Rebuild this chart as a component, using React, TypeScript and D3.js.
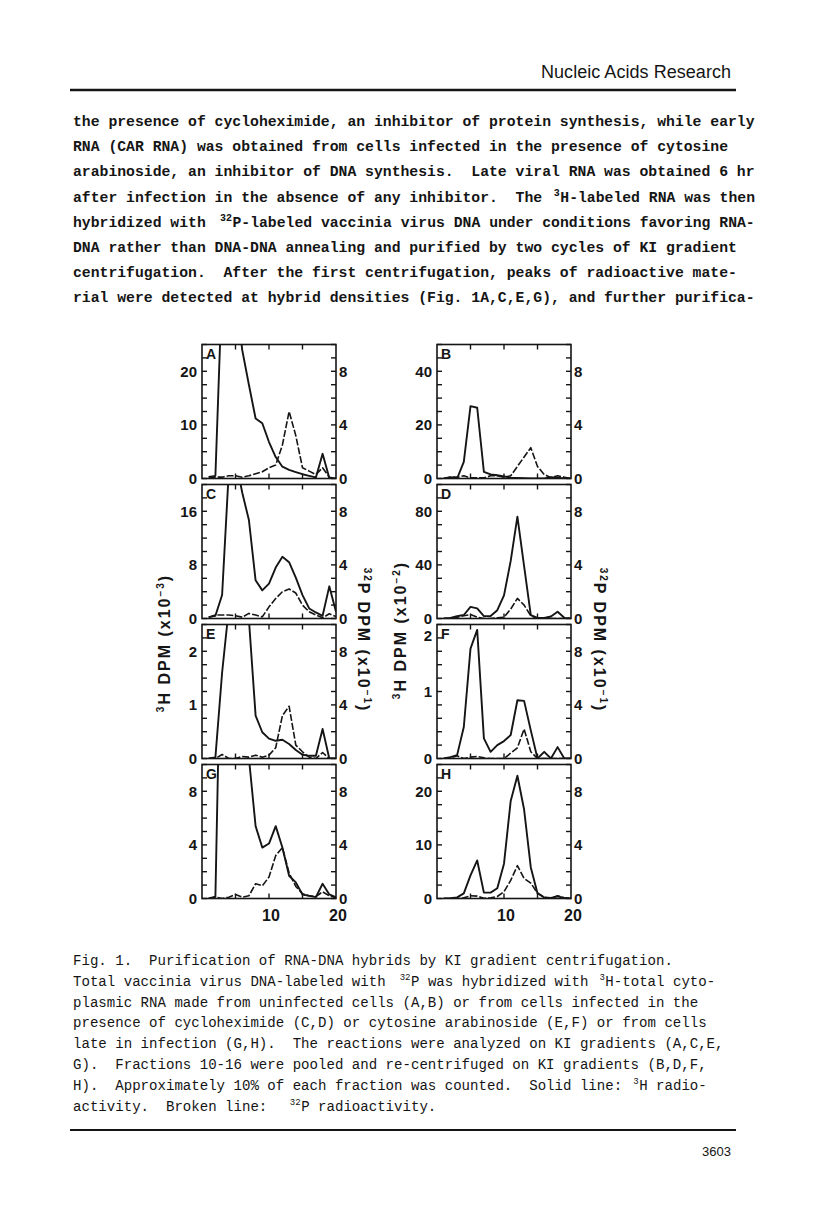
import * as React from "react";
import * as d3 from "d3";

// gradient fractions (x axis)
const fractions = [1, 2, 3, 4, 5, 6, 7, 8, 9, 10, 11, 12, 13, 14, 15, 16, 17, 18, 19, 20];

// solid = 3H (left axis), broken = 32P (right axis, x10^-1)
const solidA = [0.3, 0.5, 36, 45, 35, 24, 17.5, 11.2, 10.3, 6.8, 4.0, 2.2, 1.6, 1.2, 0.8, 0.5, 0.2, 4.6, 0.1, 0];
const brokenA = [0.1, 0.1, 0.1, 0.2, 0.2, 0.1, 0.2, 0.35, 0.5, 0.8, 1.0, 2.5, 5.0, 3.2, 0.8, 0.55, 0.3, 0.8, 0.1, 0];
const solidB = [0, 0.5, 0, 6.2, 27, 26.4, 2.5, 1.5, 1.2, 0.8, 0.3, 0.2, 0.1, 0, 0, 0, 0.5, 0.3, 0, 0];
const brokenB = [0, 0.1, 0.1, 0.2, 0.05, 0.05, 0.05, 0.2, 0.2, 0.1, 0.2, 0.9, 1.6, 2.3, 0.9, 0.3, 0.05, 0.2, 0.1, 0];
const solidC = [0.2, 0.4, 3.5, 22, 24, 18.8, 14.7, 5.7, 4.2, 5.2, 7.6, 9.2, 8.4, 6.1, 3.5, 1.5, 0.9, 0.4, 4.8, 1.0];
const brokenC = [0.1, 0.26, 0.26, 0.26, 0.2, 0.1, 0.38, 0.26, 0.12, 0.87, 1.5, 2.0, 2.2, 1.9, 1.0, 0.5, 0.26, 0.05, 0.35, 0.15];
const solidD = [0, 0.4, 1.8, 2.6, 8.7, 7.5, 1.8, 1.8, 6.2, 17.3, 43, 76, 39, 2.6, 0.4, 0.4, 1.5, 5.0, 0.5, 0];
const brokenD = [0, 0, 0.1, 0.2, 0.3, 0.1, 0, 0, 0.05, 0.1, 0.7, 1.5, 1.0, 0.2, 0, 0, 0, 0, 0, 0];
const solidE = [0, 0.02, 1.6, 2.8, 4, 4, 2.6, 0.8, 0.49, 0.37, 0.33, 0.35, 0.27, 0.16, 0.07, 0.05, 0.05, 0.55, 0, 0];
const brokenE = [0, 0, 0.3, 0, 0, 0.15, 0.1, 0.25, 0.1, 0.25, 0.8, 3.2, 3.9, 1.0, 0.5, 0.1, 0, 0.45, 0, 0];
const solidF = [0, 0.02, 0.05, 0.47, 1.64, 1.92, 0.3, 0.1, 0.2, 0.26, 0.35, 0.87, 0.86, 0.42, 0, 0.1, 0, 0.17, 0, 0];
const brokenF = [0, 0.05, 0.2, 0, 0.1, 0.15, 0.05, 0, 0, 0, 0.4, 0.8, 2.2, 0.5, 0, 0, 0, 0, 0, 0];
const solidG = [0, 0.13, 25, 30, 25, 20, 10.5, 5.4, 3.8, 4.1, 5.4, 3.8, 1.7, 1.2, 0.3, 0.2, 0.1, 1.1, 0.3, 0.1];
const brokenG = [0, 0.1, 0, 0.1, 0.3, 0.1, 0.2, 1.1, 0.95, 1.6, 3.2, 3.8, 1.9, 0.9, 0.35, 0.2, 0.15, 0.5, 0.2, 0.05];
const solidH = [0, 0.05, 0.2, 0.95, 4.3, 7.1, 1.1, 1.1, 1.9, 6.5, 18.2, 22.9, 16.6, 5.8, 1.0, 0.2, 0.1, 0.4, 0.1, 0];
const brokenH = [0, 0, 0, 0.05, 0.2, 0.18, 0.02, 0.05, 0.15, 0.5, 1.35, 2.45, 1.5, 1.15, 0.4, 0.1, 0.02, 0.2, 0.05, 0];

const panelLetters = ["A", "B", "C", "D", "E", "F", "G", "H"];
const solids = [solidA, solidB, solidC, solidD, solidE, solidF, solidG, solidH];
const brokens = [brokenA, brokenB, brokenC, brokenD, brokenE, brokenF, brokenG, brokenH];
const leftMax = [25, 50, 20, 100, 2.5, 2, 10, 25];
const leftStep = [2.5, 5, 2, 10, 0.25, 0.2, 1, 2.5];
const leftLabels = [[0, 10, 20], [0, 20, 40], [0, 8, 16], [0, 40, 80], [0, 1, 2], [0, 1, 2], [0, 4, 8], [0, 10, 20]];
const rightMax = 10;
const rightLabels = [0, 4, 8];
const topTicks = [5, 10, 15];
const xLabels = [10, 20];

// page text
const bodyLines = [
  "the presence of cycloheximide, an inhibitor of protein synthesis, while early",
  "RNA (CAR RNA) was obtained from cells infected in the presence of cytosine",
  "arabinoside, an inhibitor of DNA synthesis.  Late viral RNA was obtained 6 hr",
  "after infection in the absence of any inhibitor.  The {3}H-labeled RNA was then",
  "hybridized with {32}P-labeled vaccinia virus DNA under conditions favoring RNA-",
  "DNA rather than DNA-DNA annealing and purified by two cycles of KI gradient",
  "centrifugation.  After the first centrifugation, peaks of radioactive mate-",
  "rial were detected at hybrid densities (Fig. 1A,C,E,G), and further purifica-",
];
const captionLines = [
  "Fig. 1.  Purification of RNA-DNA hybrids by KI gradient centrifugation.",
  "Total vaccinia virus DNA-labeled with {32}P was hybridized with {3}H-total cyto-",
  "plasmic RNA made from uninfected cells (A,B) or from cells infected in the",
  "presence of cycloheximide (C,D) or cytosine arabinoside (E,F) or from cells",
  "late in infection (G,H).  The reactions were analyzed on KI gradients (A,C,E,",
  "G).  Fractions 10-16 were pooled and re-centrifuged on KI gradients (B,D,F,",
  "H).  Approximately 10% of each fraction was counted.  Solid line: {3}H radio-",
  "activity.  Broken line:  {32}P radioactivity.",
];

const INK = "#151515";
const SANS = "'Liberation Sans', Arial, sans-serif";
const MONO = "'Liberation Mono', 'Courier New', monospace";

const COL_X = [202, 437];
const PANEL_W = 134;
const PANEL_H = 134;
const ROW_BOTTOM = 478.5;
const ROW_STEP = 140;

// typewriter line, fixed pitch; superscripts keep their cells, pushed right against the next letter
function MonoLine({ text, x0, y, pitch, weight, supSize }) {
  const parts = text.split(/\{([^}]*)\}/);
  let col = 0;
  const spans = [];
  parts.forEach((p, i) => {
    if (!p) return;
    const sup = i % 2 === 1;
    const xs = sup
      ? x0 + (col + p.length) * pitch - p.length * supSize * 0.6 - 0.5
      : x0 + col * pitch;
    spans.push(
      <tspan key={i} x={xs} y={sup ? y - 6 : y} fontSize={sup ? supSize : pitch / 0.6}>
        {p}
      </tspan>
    );
    col += p.length;
  });
  return (
    <text fontFamily={MONO} fontWeight={weight} fill={INK} style={{ whiteSpace: "pre" }}>
      {spans}
    </text>
  );
}

function Panel({ i }) {
  const col = i % 2;
  const row = Math.floor(i / 2);
  const left = COL_X[col];
  const right = left + PANEL_W;
  const bottom = ROW_BOTTOM + row * ROW_STEP;
  const top = bottom - PANEL_H;

  const x = d3.scaleLinear().domain([0, 20]).range([left, right]);
  const yL = d3.scaleLinear().domain([0, leftMax[i]]).range([bottom, top]);
  const yR = d3.scaleLinear().domain([0, rightMax]).range([bottom, top]);

  const solidLine = d3.line().x((d) => x(d[0])).y((d) => yL(d[1]));
  const brokenLine = d3.line().x((d) => x(d[0])).y((d) => yR(d[1]));
  const sPts = fractions.map((f, k) => [f, solids[i][k]]);
  const bPts = fractions.map((f, k) => [f, brokens[i][k]]);

  const lTicks = d3.range(0, leftMax[i] + 1e-6, leftStep[i]);
  const rTicks = d3.range(0, rightMax + 1e-6, 1);
  const tk = 5;
  // keep a label that sits on the top edge clear of the "0" of the panel above
  const labelY = (yy) => Math.max(yy, top + 11);

  return (
    <g>
      <defs>
        <clipPath id={`clip${i}`}>
          <rect x={left} y={top} width={PANEL_W} height={PANEL_H} />
        </clipPath>
      </defs>
      <g clipPath={`url(#clip${i})`} fill="none" stroke={INK} strokeLinejoin="round">
        <path d={brokenLine(bPts)} strokeWidth={1.6} strokeDasharray="7,2" />
        <path d={solidLine(sPts)} strokeWidth={1.9} />
      </g>
      <rect x={left} y={top} width={PANEL_W} height={PANEL_H} fill="none" stroke={INK} strokeWidth={1.6} />
      {lTicks.map((t, k) => (
        <line key={"l" + k} x1={left} x2={left + tk} y1={yL(t)} y2={yL(t)} stroke={INK} strokeWidth={1.4} />
      ))}
      {rTicks.map((t, k) => (
        <line key={"r" + k} x1={right - tk} x2={right} y1={yR(t)} y2={yR(t)} stroke={INK} strokeWidth={1.4} />
      ))}
      {topTicks.map((t) => (
        <g key={"t" + t}>
          <line x1={x(t)} x2={x(t)} y1={top} y2={top + tk} stroke={INK} strokeWidth={1.4} />
          <line x1={x(t)} x2={x(t)} y1={bottom} y2={bottom - tk} stroke={INK} strokeWidth={1.4} />
        </g>
      ))}
      <g fontFamily={SANS} fontWeight="bold" fontSize={15} fill={INK}>
        {leftLabels[i].map((t) => (
          <text key={"ll" + t} x={left - 5} y={labelY(yL(t))} dy="0.36em" textAnchor="end">
            {t}
          </text>
        ))}
        {rightLabels.map((t) => (
          <text key={"rl" + t} x={right + 3} y={yR(t)} dy="0.36em" textAnchor="start">
            {t}
          </text>
        ))}
        {row === 3 &&
          xLabels.map((t) => (
            <text key={"xl" + t} x={x(t) + 2} y={bottom + 22} textAnchor="middle" fontSize={16}>
              {t}
            </text>
          ))}
        <text x={left + 4} y={top + 14} fontSize={14}>
          {panelLetters[i]}
        </text>
      </g>
    </g>
  );
}

function AxisTitle({ x, y, rot, pre, main, exp }) {
  return (
    <text
      transform={`translate(${x},${y}) rotate(${rot})`}
      textAnchor="middle"
      fontFamily={SANS}
      fontWeight="bold"
      fontSize={16}
      letterSpacing={2}
      fill={INK}
    >
      <tspan fontSize={10} dy={-6}>{pre}</tspan>
      <tspan dy={6}>{main}</tspan>
      <tspan fontSize={10} dy={-6}>{exp}</tspan>
      <tspan dy={6}>)</tspan>
    </text>
  );
}

export default function App() {
  const W = 816;
  const H = 1209;
  return (
    <svg width={W} height={H} style={{ position: "absolute", left: 0, top: 0, background: "#fff" }}>
      <rect width={W} height={H} fill="#fff" />
      <text x={731} y={78} textAnchor="end" fontFamily={SANS} fontSize={18} fill={INK} textLength={190}>
        Nucleic Acids Research
      </text>
      <line x1={70} x2={736} y1={90} y2={90} stroke={INK} strokeWidth={2.5} />

      {bodyLines.map((l, k) => (
        <MonoLine key={k} text={l} x0={73} y={126 + k * 25.2} pitch={8.86} weight="bold" supSize={10} />
      ))}

      {d3.range(8).map((i) => (
        <Panel key={i} i={i} />
      ))}

      <AxisTitle x={170} y={643} rot={-90} pre="3" main="H DPM (x10" exp="−3" />
      <AxisTitle x={358} y={640} rot={90} pre="32" main="P DPM (x10" exp="−1" />
      <AxisTitle x={406} y={630} rot={-90} pre="3" main="H DPM (x10" exp="−2" />
      <AxisTitle x={594} y={640} rot={90} pre="32" main="P DPM (x10" exp="−1" />

      {captionLines.map((l, k) => (
        <MonoLine key={k} text={l} x0={73} y={965 + k * 20.8} pitch={8.45} weight="normal" supSize={9} />
      ))}

      <line x1={70} x2={736} y1={1130} y2={1130} stroke={INK} strokeWidth={2} />
      <text x={731} y={1156} textAnchor="end" fontFamily={SANS} fontSize={13} fill={INK}>
        3603
      </text>
    </svg>
  );
}
